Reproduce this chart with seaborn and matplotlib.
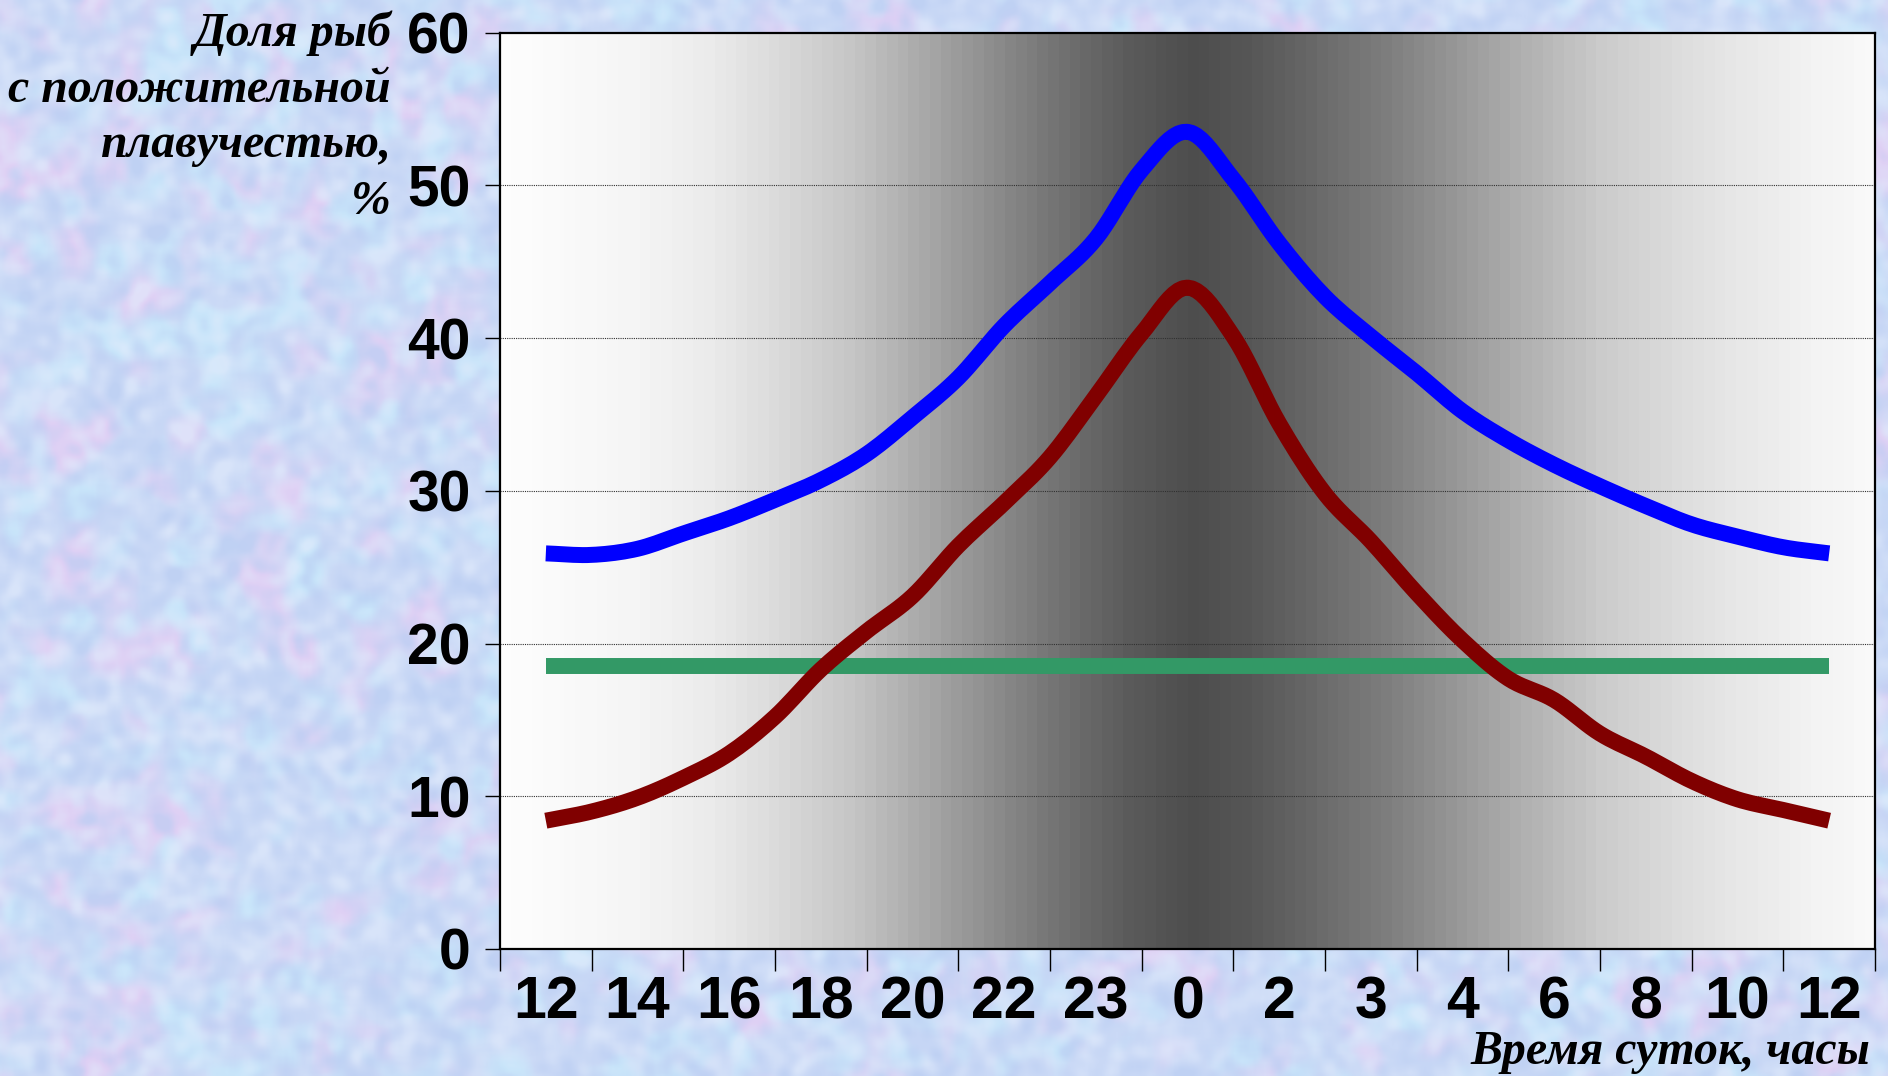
import numpy as np
import pandas as pd
import matplotlib
matplotlib.use("Agg")
import matplotlib.pyplot as plt
import seaborn as sns

# ---- data -------------------------------------------------------------
hours = ["12", "14", "16", "18", "20", "22", "23", "0", "2", "3", "4", "6", "8", "10", "12"]

# curves sampled every half hour-step along the category axis
blue_share = [25.9, 25.8, 26.2, 27.2, 28.2, 29.4, 30.7, 32.4, 34.8, 37.4,
              40.8, 43.6, 46.5, 51.0, 53.5, 50.4, 46.2, 42.7, 40.1, 37.7,
              35.2, 33.3, 31.7, 30.3, 29.0, 27.8, 27.0, 26.3, 25.9]
red_share = [8.4, 9.0, 9.9, 11.2, 12.8, 15.2, 18.3, 20.8, 23.1, 26.4,
             29.2, 32.2, 36.2, 40.3, 43.3, 40.1, 34.4, 29.8, 26.7, 23.3,
             20.2, 17.7, 16.3, 14.1, 12.6, 11.0, 9.8, 9.1, 8.4]
green_share = [18.5, 18.5, 18.5, 18.5, 18.5, 18.5, 18.5, 18.5,
               18.5, 18.5, 18.5, 18.5, 18.5, 18.5, 18.5]

y_ticks = [0, 10, 20, 30, 40, 50, 60]
y_title = ["Доля рыб", "с положительной", "плавучестью,", "%"]
x_title = "Время суток, часы"

half_pos = np.arange(len(blue_share)) / 2.0
cat_pos = np.arange(len(hours))


def smoothed(x, y, steps=10):
    """Catmull-Rom rendering of a series as a smooth line (like a spreadsheet 'smoothed line')."""
    x = np.asarray(x, float)
    y = np.asarray(y, float)
    px = np.concatenate([[2 * x[0] - x[1]], x, [2 * x[-1] - x[-2]]])
    py = np.concatenate([[2 * y[0] - y[1]], y, [2 * y[-1] - y[-2]]])
    out_x, out_y = [], []
    s = np.linspace(0, 1, steps, endpoint=False)
    for i in range(1, len(px) - 2):
        for arr, out in ((px, out_x), (py, out_y)):
            p0, p1, p2, p3 = arr[i - 1], arr[i], arr[i + 1], arr[i + 2]
            out.extend(0.5 * (2 * p1 + (-p0 + p2) * s
                              + (2 * p0 - 5 * p1 + 4 * p2 - p3) * s ** 2
                              + (-p0 + 3 * p1 - 3 * p2 + p3) * s ** 3))
    out_x.append(x[-1])
    out_y.append(y[-1])
    return np.array(out_x), np.array(out_y)


bx, by = smoothed(half_pos, blue_share)
rx, ry = smoothed(half_pos, red_share)
blue_df = pd.DataFrame({"pos": bx, "share": by})
red_df = pd.DataFrame({"pos": rx, "share": ry})
green_df = pd.DataFrame({"pos": cat_pos, "share": green_share})

# ---- figure -------------------------------------------------------------
sns.set_theme(style="white")
W, H = 1888, 1076
fig = plt.figure(figsize=(W / 100, H / 100), dpi=100)

# mottled pastel paper backdrop
rng = np.random.default_rng(5)
th, tw = H // 2, W // 2


def blur(a, r):
    k = np.ones(2 * r + 1) / (2 * r + 1)
    p = np.pad(a, r, mode="wrap")
    p = np.apply_along_axis(lambda m: np.convolve(m, k, mode="valid"), 0, p)
    p = np.apply_along_axis(lambda m: np.convolve(m, k, mode="valid"), 1, p)
    return p


def norm(a):
    a = a - a.mean()
    return a / (np.abs(a).max() + 1e-9)


pink = norm(blur(blur(rng.random((th, tw)), 8), 6))
cyan = norm(blur(blur(rng.random((th, tw)), 6), 4))
fine = norm(blur(blur(rng.random((th, tw)), 3), 2))
base = np.array([202, 217, 246]) / 255.0
pink_c = np.array([228, 206, 244]) / 255.0
cyan_c = np.array([200, 232, 251]) / 255.0
deep_c = np.array([184, 204, 242]) / 255.0
light_c = np.array([226, 236, 252]) / 255.0
tex = np.ones((th, tw, 3)) * base
wp = np.clip(pink * 1.7, 0, 0.8)[..., None]
tex = tex * (1 - wp) + pink_c * wp
wc = np.clip(cyan * 1.7, 0, 0.8)[..., None]
tex = tex * (1 - wc) + cyan_c * wc
wd = np.clip(-fine * 1.1, 0, 0.6)[..., None]
tex = tex * (1 - wd) + deep_c * wd
wl = np.clip(fine * 1.1, 0, 0.6)[..., None]
tex = tex * (1 - wl) + light_c * wl
tex = np.clip(tex, 0, 1)

bg = fig.add_axes([0, 0, 1, 1], zorder=-5)
bg.imshow(tex, aspect="auto", interpolation="bilinear", extent=(0, 1, 0, 1))
bg.set_axis_off()

# plotting area
left, right, top, bottom = 500, 1875, 32.5, 949
ax = fig.add_axes([left / W, 1 - bottom / H, (right - left) / W, (bottom - top) / H])

# banded day/night shading, darkest at midnight
frac_pts = [0, 0.10, 0.153, 0.204, 0.255, 0.306, 0.357, 0.408, 0.459, 0.504,
            0.548, 0.60, 0.65, 0.70, 0.75, 0.80, 0.855, 0.905, 0.957, 1.0]
gray_pts = [0xfe, 0xf5, 0xeb, 0xda, 0xc6, 0xaa, 0x8e, 0x71, 0x5a, 0x4d,
            0x57, 0x6c, 0x80, 0x9a, 0xb3, 0xcb, 0xdc, 0xe9, 0xf3, 0xfa]
n_band = 128
fc = (np.arange(n_band) + 0.5) / n_band
gray = np.interp(fc, frac_pts, gray_pts) / 255.0
shade = np.repeat(gray[None, :, None], 3, axis=2)
ax.imshow(shade, aspect="auto", interpolation="nearest",
          extent=(-0.5, len(hours) - 0.5, 0, 60), zorder=0)

lw = 11.5
sns.lineplot(data=green_df, x="pos", y="share", ax=ax, color="#339966", linewidth=lw,
             estimator=None, sort=False, zorder=3, solid_capstyle="butt")
sns.lineplot(data=red_df, x="pos", y="share", ax=ax, color="#800000", linewidth=lw,
             estimator=None, sort=False, zorder=4, solid_capstyle="butt",
             solid_joinstyle="round")
sns.lineplot(data=blue_df, x="pos", y="share", ax=ax, color="#0000FF", linewidth=lw,
             estimator=None, sort=False, zorder=5, solid_capstyle="butt",
             solid_joinstyle="round")

ax.set_xlim(-0.5, len(hours) - 0.5)
ax.set_ylim(0, 60)
ax.set_xlabel("")
ax.set_ylabel("")

for yv in y_ticks[1:-1]:
    ax.axhline(yv, color="#303030", linewidth=0.8, linestyle=(0, (1, 1)), zorder=1)

ax.set_yticks(y_ticks)
ax.set_yticklabels([str(v) for v in y_ticks])
ax.set_xticks(cat_pos)
ax.set_xticklabels(hours)
ax.set_xticks(np.arange(-0.5, len(hours), 1.0), minor=True)

ax.tick_params(axis="y", which="major", direction="out", length=11, width=1,
               color="black", pad=10, left=True)
ax.tick_params(axis="x", which="major", length=0, pad=19, bottom=True)
ax.tick_params(axis="x", which="minor", direction="out", length=15.5, width=1,
               color="black", bottom=True)

for lab in ax.get_yticklabels():
    lab.set_fontfamily("Liberation Sans")
    lab.set_fontweight("bold")
    lab.set_fontsize(41)
    lab.set_color("black")
for lab in ax.get_xticklabels():
    lab.set_fontfamily("Liberation Sans")
    lab.set_fontweight("bold")
    lab.set_fontsize(42.5)
    lab.set_color("black")

for side in ["left", "bottom", "top", "right"]:
    ax.spines[side].set_visible(True)
    ax.spines[side].set_color("black")
    ax.spines[side].set_linewidth(1.6)

# axis titles
title_font = dict(family="Liberation Serif", weight="bold", style="italic",
                  color="black", fontsize=34.5)
for line, base_y in zip(y_title, [46, 102, 157, 214]):
    fig.text(391 / W, 1 - base_y / H, line, ha="right", va="baseline", **title_font)
fig.text(1870 / W, 1 - 1064 / H, x_title, ha="right", va="baseline", **title_font)

fig.savefig("out.png", dpi=100)
